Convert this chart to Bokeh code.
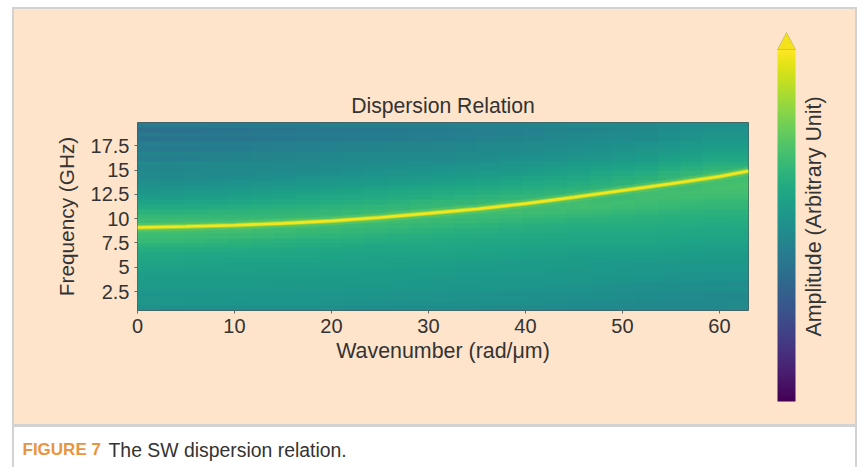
import numpy as np
from bokeh.plotting import figure
from bokeh.layouts import column, row
from bokeh.models import (ColorBar, FixedTicker, Label, LinearColorMapper,
                          PolyAnnotation, Range1d, Spacer)
from bokeh.palettes import Viridis256
from bokeh.embed import file_html
from bokeh.resources import INLINE

# amplitude cells: bottom row first, one column per 7 rad/um
amplitude_rows = [
    [.50,.50,.50,.49,.49,.48,.48,.47,.47],
    [.53,.52,.52,.51,.50,.50,.49,.48,.47],
    [.53,.53,.53,.52,.52,.51,.50,.49,.48],
    [.52,.53,.52,.52,.51,.50,.50,.49,.48],
    [.54,.54,.54,.53,.53,.52,.51,.50,.50],
    [.55,.55,.54,.54,.53,.53,.52,.50,.49],
    [.55,.55,.55,.55,.54,.53,.53,.52,.51],
    [.56,.56,.56,.55,.55,.54,.53,.53,.51],
    [.57,.57,.56,.56,.55,.55,.54,.53,.53],
    [.58,.57,.57,.57,.56,.55,.55,.53,.53],
    [.59,.58,.58,.57,.57,.56,.55,.55,.54],
    [.60,.59,.59,.58,.58,.57,.56,.56,.55],
    [.62,.61,.60,.59,.59,.58,.57,.57,.56],
    [.64,.63,.62,.60,.60,.59,.58,.58,.57],
    [.67,.65,.63,.62,.61,.60,.59,.59,.58],
    [.69,.68,.66,.64,.62,.61,.60,.60,.59],
    [.71,.70,.68,.66,.64,.62,.61,.61,.60],
    [.71,.71,.70,.68,.66,.64,.62,.62,.61],
    [.69,.69,.70,.70,.68,.66,.64,.63,.62],
    [.67,.67,.68,.70,.70,.68,.66,.64,.63],
    [.64,.65,.66,.68,.70,.70,.68,.66,.64],
    [.61,.62,.64,.66,.68,.70,.70,.68,.66],
    [.58,.59,.61,.63,.66,.68,.70,.69,.67],
    [.55,.57,.59,.61,.63,.66,.68,.70,.69],
    [.53,.55,.57,.59,.61,.63,.66,.70,.70],
    [.51,.53,.55,.57,.59,.61,.64,.68,.71],
    [.50,.51,.53,.55,.57,.59,.62,.66,.71],
    [.48,.49,.51,.53,.55,.57,.60,.64,.70],
    [.47,.48,.49,.51,.53,.55,.58,.62,.68],
    [.46,.47,.48,.50,.51,.53,.56,.59,.65],
    [.47,.48,.48,.49,.50,.52,.55,.57,.62],
    [.43,.45,.46,.47,.48,.50,.52,.55,.60],
    [.45,.45,.46,.47,.48,.49,.51,.54,.58],
    [.41,.42,.44,.45,.46,.47,.50,.52,.56],
    [.43,.43,.44,.45,.46,.47,.49,.51,.55],
    [.38,.39,.41,.42,.43,.45,.47,.49,.53],
    [.41,.41,.42,.42,.43,.44,.47,.49,.52],
    [.37,.39,.40,.41,.42,.44,.45,.47,.51],
    [.42,.42,.43,.44,.44,.45,.47,.48,.50],
]
ridge_k = [0, 5, 10, 15, 20, 25, 30, 35, 40, 45, 50, 55, 60, 63]
ridge_f = [9.1, 9.2, 9.33, 9.52, 9.77, 10.12, 10.55, 11.0, 11.55, 12.2, 12.9, 13.6, 14.35, 14.9]
x_ticks = [0, 10, 20, 30, 40, 50, 60]
y_ticks = [2.5, 5, 7.5, 10, 12.5, 15, 17.5]
y_labels = ["2.5", "5", "7.5", "10", "12.5", "15", "17.5"]

PEACH = "#FEE4CB"
GRAY = "#D2D2D2"
INK = "#333333"
FONT = "Liberation Sans"

# main panel
p = figure(width=737, height=415, output_backend="svg", toolbar_location=None,
           x_range=Range1d(0, 63), y_range=Range1d(0.55, 19.9),
           min_border_left=123, min_border_right=3, min_border_top=113, min_border_bottom=114,
           title="Dispersion Relation", x_axis_label="Wavenumber (rad/μm)",
           y_axis_label="Frequency (GHz)")
p.frame_align = False
p.border_fill_color = PEACH
p.background_fill_color = None
p.grid.visible = False
p.outline_line_color = "#555555"
p.outline_line_width = 1

mapper = LinearColorMapper(palette=Viridis256, low=0, high=1)
cells = np.array(amplitude_rows)
for shift, alpha in ((0, 1), (-2.3, 0.5), (2.3, 0.33)):
    p.image(image=[cells], x=shift, y=0.55, dw=63, dh=19.35, color_mapper=mapper, global_alpha=alpha)
p.line(ridge_k, ridge_f, line_color="#35b779", line_width=20, line_alpha=0.15)
p.line(ridge_k, ridge_f, line_color="#6ece58", line_width=9, line_alpha=0.4)
p.line(ridge_k, ridge_f, line_color="#b5de2b", line_width=4.5, line_alpha=0.7)
p.line(ridge_k, ridge_f, line_color="#f4e61e", line_width=2.6)

for ax, ticks in ((p.xaxis[0], x_ticks), (p.yaxis[0], y_ticks)):
    ax.ticker = FixedTicker(ticks=ticks)
    ax.major_label_text_font = FONT
    ax.major_label_text_font_size = "20px"
    ax.major_label_text_color = INK
    ax.axis_label_text_font = FONT
    ax.axis_label_text_font_size = "21.4px"
    ax.axis_label_text_font_style = "normal"
    ax.axis_label_text_color = INK
    ax.axis_line_color = None
    ax.major_tick_line_color = "#666666"
    ax.major_tick_in = 0
    ax.major_tick_out = 3
    ax.minor_tick_line_color = None
    ax.major_label_standoff = 5
p.yaxis[0].major_label_overrides = {t: s for t, s in zip(y_ticks, y_labels)}
p.yaxis[0].axis_label_text_font_size = "20.8px"
p.yaxis[0].axis_label_standoff = 10
p.xaxis[0].axis_label_standoff = 3
p.title.text_font = FONT
p.title.text_font_size = "21.2px"
p.title.text_font_style = "normal"
p.title.text_color = INK
p.title.align = "center"
p.title.offset = -3
p.title.standoff = 12

def plain(width, height, xr, yr, fill):
    f = figure(width=width, height=height, output_backend="svg", toolbar_location=None,
               x_range=Range1d(*xr), y_range=Range1d(*yr),
               min_border=0, min_border_left=0, min_border_right=0, min_border_top=0, min_border_bottom=0)
    f.frame_align = False
    f.axis.visible = False
    f.grid.visible = False
    f.outline_line_color = None
    f.background_fill_color = fill
    f.border_fill_color = fill
    return f

# colour bar panel (ranges are page pixels)
b = plain(104, 415, (751, 855), (424, 9), PEACH)
bar = ColorBar(color_mapper=mapper, location=(26, 23), width=18, height=352,
               padding=0, margin=0, ticker=FixedTicker(ticks=[]),
               background_fill_color=None, border_line_color=None, bar_line_color=None,
               major_tick_line_color=None, minor_tick_line_color=None)
b.add_layout(bar, "center")
b.add_layout(PolyAnnotation(xs=[777, 786, 795], ys=[49, 32, 49], fill_color="#F4E31C", fill_alpha=1,
                            line_color="#777755", line_width=1))
b.add_layout(Label(x=813, y=216, text="Amplitude (Arbitrary Unit)", text_font=FONT, text_font_size="21.4px",
                   text_color=INK, angle=np.pi/2, text_align="center", text_baseline="middle"))

# caption strip (ranges are page pixels)
c = plain(841, 40, (14, 855), (467, 427), "white")
c.add_layout(Label(x=22, y=449, text="FIGURE 7", text_font=FONT, text_font_size="17px", text_font_style="bold",
                   text_color="#E9943F", text_baseline="middle"))
c.add_layout(Label(x=108, y=449, text="The SW dispersion relation.", text_font=FONT, text_font_size="19.4px",
                   text_color=INK, text_baseline="middle"))

def strip(width, height, color):
    return Spacer(width=width, height=height, styles={"background-color": color})

panel = row(p, b, spacing=0, styles={"background-color": PEACH})
inner = column(strip(841, 2, GRAY), panel, strip(841, 3, GRAY), c, spacing=0)
page = column(strip(857, 7, "white"),
              row(strip(12, 460, "white"), strip(2, 460, GRAY), inner, strip(2, 460, GRAY), spacing=0),
              spacing=0)

open("out.html", "w").write(file_html(page, INLINE))
